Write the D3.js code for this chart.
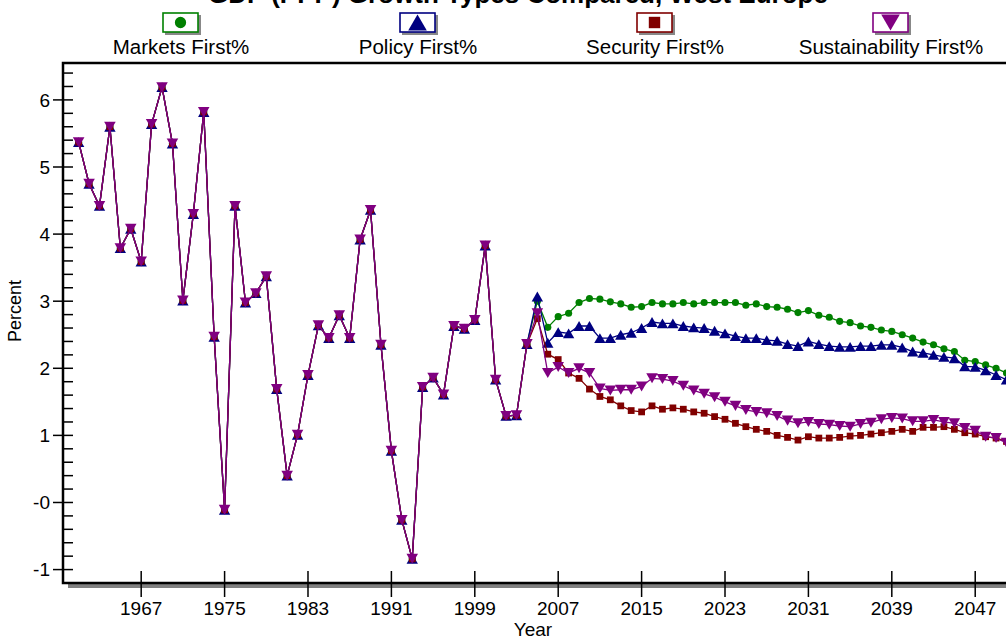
<!DOCTYPE html>
<html>
<head>
<meta charset="utf-8">
<script src="https://cdn.jsdelivr.net/npm/d3@7"></script>
<style>
  html, body { margin: 0; padding: 0; background: #fff; overflow: hidden; }
  text { font-family: "Liberation Sans", Arial, sans-serif; fill: #000; }
</style>
</head>
<body>
<svg id="chart" width="1006" height="638"></svg>
<script>

// data
// --------------------------------------------------------------------

// history, same for every scenario
var histYears = d3.range(1961, 2005);
var histValues = [5.37, 4.75, 4.42, 5.60, 3.79, 4.08, 3.59, 5.64, 6.19, 5.35,
	3.01, 4.30, 5.82, 2.47, -0.11, 4.42, 2.98, 3.12, 3.37, 1.69,
	0.40, 1.01, 1.90, 2.64, 2.45, 2.79, 2.45, 3.92, 4.36, 2.35,
	0.77, -0.26, -0.84, 1.72, 1.86, 1.61, 2.63, 2.59, 2.72, 3.83,
	1.83, 1.29, 1.30, 2.36];

// scenario runs
var projYears = d3.range(2005, 2051);
var marketsFirst = [3.00, 2.61, 2.77, 2.82, 2.98, 3.04, 3.03, 2.99, 2.96, 2.91,
	2.92, 2.98, 2.96, 2.96, 2.98, 2.96, 2.98, 2.98, 2.98, 2.98,
	2.94, 2.96, 2.92, 2.91, 2.88, 2.83, 2.86, 2.79, 2.76, 2.70,
	2.68, 2.63, 2.61, 2.57, 2.55, 2.50, 2.45, 2.39, 2.35, 2.29,
	2.25, 2.12, 2.10, 2.05, 2.00, 1.93];
var policyFirst = [3.07, 2.38, 2.54, 2.52, 2.63, 2.63, 2.45, 2.45, 2.50, 2.53,
	2.60, 2.69, 2.67, 2.67, 2.63, 2.61, 2.60, 2.56, 2.52, 2.48,
	2.45, 2.45, 2.42, 2.41, 2.36, 2.33, 2.40, 2.36, 2.33, 2.32,
	2.32, 2.33, 2.33, 2.35, 2.35, 2.31, 2.25, 2.23, 2.20, 2.17,
	2.15, 2.03, 2.02, 1.97, 1.90, 1.83];
var securityFirst = [2.74, 2.21, 2.13, 1.93, 1.85, 1.69, 1.58, 1.53, 1.44, 1.37,
	1.35, 1.44, 1.39, 1.41, 1.39, 1.35, 1.33, 1.28, 1.24, 1.18,
	1.13, 1.09, 1.06, 1.00, 0.97, 0.93, 0.98, 0.96, 0.96, 0.97,
	0.99, 1.00, 1.02, 1.04, 1.06, 1.09, 1.06, 1.12, 1.12, 1.13,
	1.09, 1.04, 1.02, 0.98, 0.96, 0.91];
var sustainabilityFirst = [2.82, 1.93, 2.02, 1.93, 2.00, 1.93, 1.70, 1.67, 1.68, 1.68,
	1.73, 1.85, 1.84, 1.81, 1.74, 1.67, 1.62, 1.57, 1.50, 1.44,
	1.38, 1.35, 1.33, 1.29, 1.22, 1.18, 1.20, 1.17, 1.16, 1.14,
	1.13, 1.17, 1.19, 1.24, 1.26, 1.25, 1.21, 1.21, 1.23, 1.20,
	1.18, 1.11, 1.07, 0.98, 0.96, 0.89];

var seriesNames = ['Markets First%', 'Policy First%', 'Security First%', 'Sustainability First%'];
var seriesColors = ['#008000', '#000080', '#800000', '#800080'];
var seriesValues = [marketsFirst, policyFirst, securityFirst, sustainabilityFirst];

var xTicks = [1967, 1975, 1983, 1991, 1999, 2007, 2015, 2023, 2031, 2039, 2047];
var yTicks = [6, 5, 4, 3, 2, 1, 0, -1];
var yTickLabels = ['6', '5', '4', '3', '2', '1', '-0', '-1'];

var title = 'GDP (PPP) Growth Types Compared, West Europe';

// setup
// --------------------------------------------------------------------

var svg = d3.select('#chart');

var x = d3.scaleLinear().domain([1959.5, 2050.5]).range([63, 1011.7]);
var y = d3.scaleLinear().domain([-1.2, 6.55]).range([583, 63]);

// marker shape per series; triangles are centred on their box, not centroid
var symbolTypes = [d3.symbolCircle, d3.symbolTriangle, d3.symbolSquare, d3.symbolTriangle];
var markerRotate = [0, 0, 0, 180];

function triShift(size) {
	// half of the centroid offset, so the box centre sits on the point
	return 0.5 * Math.sqrt(size / (3 * Math.sqrt(3)));
}

function markerTransform(i, size, cx, cy) {
	var dy = 0;
	if (i === 1) dy = triShift(size);
	if (i === 3) dy = -triShift(size);
	return 'translate(' + cx + ',' + (cy + dy) + ') rotate(' + markerRotate[i] + ')';
}

var markerSizes = [40, 56, 46, 58];
var legendSizes = [100, 150, 130, 150];

// title, mostly above the window
svg.append('text')
	.attr('x', 518).attr('y', 3)
	.attr('text-anchor', 'middle')
	.style('font-size', '26px').style('font-weight', 'bold')
	.text(title);

// legend
var legendX = [181, 418, 655, 891];
seriesNames.forEach(function(name, i) {
	var g = svg.append('g').attr('transform', 'translate(' + legendX[i] + ',0)');
	g.append('rect').attr('x', -16).attr('y', 15).attr('width', 36).attr('height', 20).attr('fill', '#888');
	g.append('rect').attr('x', -18).attr('y', 13).attr('width', 35).attr('height', 19)
		.attr('fill', '#fff').attr('stroke', seriesColors[i]).attr('stroke-width', 1.6);
	g.append('path')
		.attr('d', d3.symbol().type(symbolTypes[i]).size(legendSizes[i])())
		.attr('transform', markerTransform(i, legendSizes[i], -0.5, 22.5))
		.attr('fill', seriesColors[i]);
	g.append('text')
		.attr('x', 0).attr('y', 54)
		.attr('text-anchor', 'middle')
		.style('font-size', '20.5px')
		.text(name);
});

// plot frame with shadow
svg.append('rect').attr('x', 68).attr('y', 68).attr('width', 960).attr('height', 520).attr('fill', '#808080');
svg.append('rect').attr('x', 63).attr('y', 63).attr('width', 948.7).attr('height', 520)
	.attr('fill', '#fff').attr('stroke', '#000').attr('stroke-width', 2.5);

// y axis: major ticks cross, minor ticks inside
var minorY = d3.range(-1.0, 6.5, 0.2).filter(function(v) { return Math.abs(v - Math.round(v)) > 0.01; });
svg.append('g').selectAll('line').data(minorY).enter().append('line')
	.attr('x1', 63).attr('x2', 73)
	.attr('y1', function(d) { return y(d); }).attr('y2', function(d) { return y(d); })
	.attr('stroke', '#000').attr('stroke-width', 1.5);
svg.append('g').selectAll('line').data(yTicks).enter().append('line')
	.attr('x1', 53).attr('x2', 73)
	.attr('y1', function(d) { return y(d); }).attr('y2', function(d) { return y(d); })
	.attr('stroke', '#000').attr('stroke-width', 1.5);
svg.append('g').selectAll('text').data(yTicks).enter().append('text')
	.attr('x', 50).attr('y', function(d) { return y(d); })
	.attr('dy', '0.36em')
	.attr('text-anchor', 'end')
	.style('font-size', '19px')
	.text(function(d, i) { return yTickLabels[i]; });

// x axis
svg.append('g').selectAll('line').data(xTicks).enter().append('line')
	.attr('x1', function(d) { return x(d); }).attr('x2', function(d) { return x(d); })
	.attr('y1', 571).attr('y2', 597)
	.attr('stroke', '#000').attr('stroke-width', 1.5);
svg.append('g').selectAll('text').data(xTicks).enter().append('text')
	.attr('x', function(d) { return x(d); }).attr('y', 615)
	.attr('text-anchor', 'middle')
	.style('font-size', '19px')
	.text(function(d) { return d; });

// axis titles
svg.append('text')
	.attr('transform', 'translate(21,311) rotate(-90)')
	.attr('text-anchor', 'middle')
	.style('font-size', '18px')
	.text('Percent');
svg.append('text')
	.attr('x', 533).attr('y', 636)
	.attr('text-anchor', 'middle')
	.style('font-size', '19px')
	.text('Year');

// series
// --------------------------------------------------------------------

var line = d3.line()
	.x(function(d) { return x(d.year); })
	.y(function(d) { return y(d.value); });

var plot = svg.append('g');

seriesValues.forEach(function(values, i) {
	var data = histYears.map(function(yr, j) { return {year: yr, value: histValues[j]}; })
		.concat(projYears.map(function(yr, j) { return {year: yr, value: values[j]}; }));

	plot.append('path')
		.datum(data)
		.attr('d', line)
		.attr('fill', 'none')
		.attr('stroke', seriesColors[i])
		.attr('stroke-width', 1.3);

	plot.append('g').selectAll('path').data(data).enter().append('path')
		.attr('d', d3.symbol().type(symbolTypes[i]).size(markerSizes[i])())
		.attr('transform', function(d) { return markerTransform(i, markerSizes[i], x(d.year), y(d.value)); })
		.attr('fill', seriesColors[i]);
});

</script>
</body>
</html>
